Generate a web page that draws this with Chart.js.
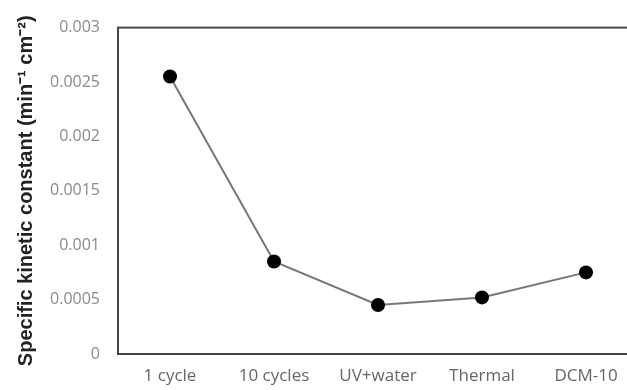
<!DOCTYPE html>
<html>
<head>
<meta charset="utf-8">
<script src="https://cdn.jsdelivr.net/npm/chart.js@4"></script>
<style>
  html, body { margin: 0; padding: 0; background: #fff; overflow: hidden; }
  #wrap { width: 645px; height: 390px; position: relative; }
</style>
</head>
<body>
<div id="wrap"><canvas id="c"></canvas></div>
<script>
// Treatment conditions along the x axis
const categories = ['1 cycle', '10 cycles', 'UV+water', 'Thermal', 'DCM-10'];
// Specific kinetic constant (min^-1 cm^-2) per condition
const kineticConstant = [0.00255, 0.00085, 0.00045, 0.00052, 0.00075];
// Labels shown on the y axis, bottom to top
const yTickLabels = ['0', '0.0005', '0.001', '0.0015', '0.002', '0.0025', '0.003'];

// Closed frame around the plotting area
const frame = {
  id: 'frame',
  afterDraw(chart) {
    const { ctx, chartArea: a } = chart;
    ctx.save();
    ctx.strokeStyle = '#464646';
    ctx.lineWidth = 2;
    ctx.strokeRect(a.left, a.top, a.right - a.left, a.bottom - a.top);
    ctx.restore();
  }
};

new Chart(document.getElementById('c'), {
  type: 'line',
  data: {
    labels: categories,
    datasets: [{
      data: kineticConstant,
      borderColor: '#777',
      borderWidth: 2,
      pointRadius: 7,
      pointHoverRadius: 7,
      pointBackgroundColor: '#000',
      pointBorderColor: '#000',
      pointBorderWidth: 0,
      tension: 0
    }]
  },
  options: {
    responsive: true,
    maintainAspectRatio: false,
    animation: false,
    layout: { padding: { left: 14, top: 17, right: 4, bottom: 0 } },
    plugins: { legend: { display: false }, tooltip: { enabled: false } },
    scales: {
      x: {
        offset: true,
        grid: { display: false, drawTicks: false },
        border: { display: false },
        afterFit: (s) => { s.height = 36; },
        ticks: {
          padding: 12,
          color: '#666',
          maxRotation: 0,
          font: { family: 'Open Sans', size: 17 }
        }
      },
      y: {
        min: 0,
        max: 0.003,
        grid: { display: false, drawTicks: false },
        border: { display: false },
        afterFit: (s) => { s.width = 104; },
        ticks: {
          stepSize: 0.0005,
          padding: 18,
          color: '#8a8a8a',
          font: { family: 'Open Sans', size: 16 },
          callback: (v, i) => yTickLabels[i]
        },
        title: {
          display: true,
          text: 'Specific kinetic constant (min⁻¹ cm⁻²)',
          color: '#222',
          font: { family: 'Liberation Sans', size: 20, weight: 'bold' },
          padding: { top: 0, bottom: 0 }
        }
      }
    }
  },
  plugins: [frame]
});
</script>
</body>
</html>
